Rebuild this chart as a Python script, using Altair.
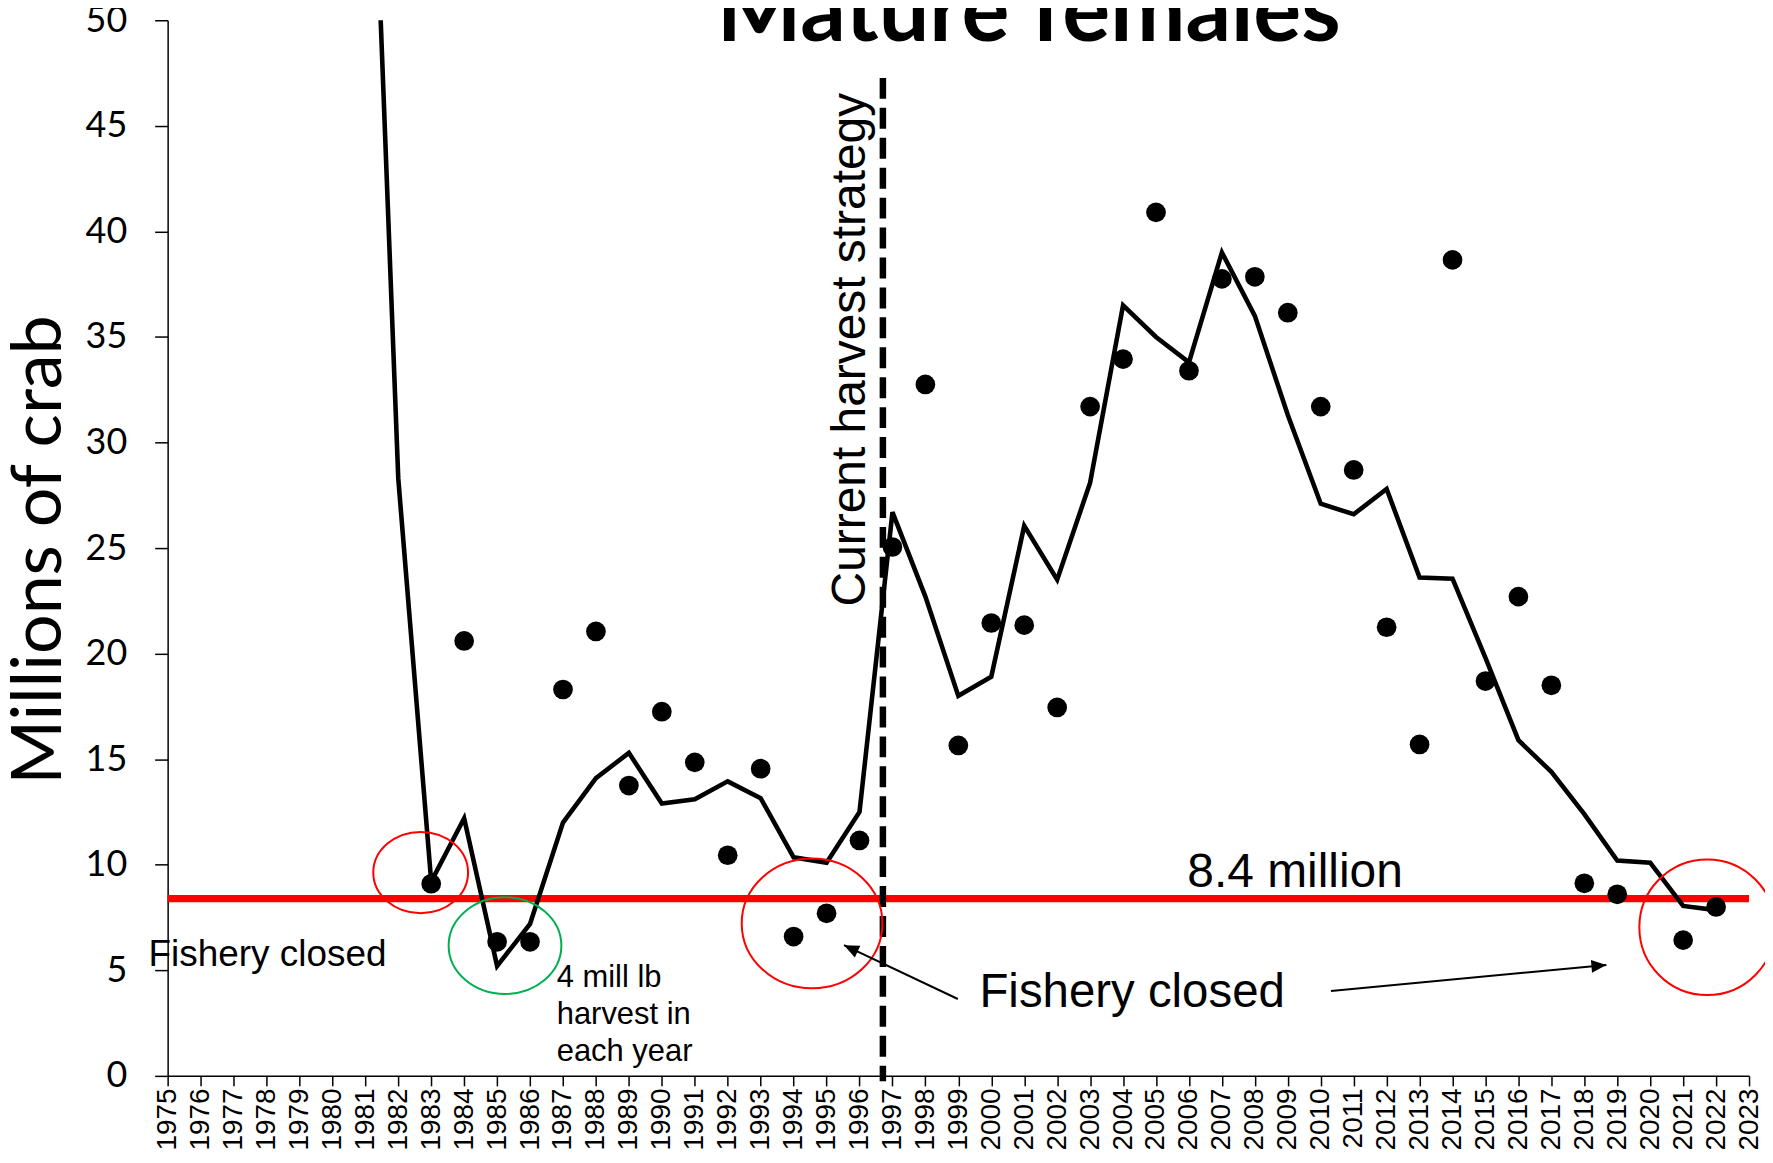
import altair as alt
import pandas as pd

# ---------------- data ----------------
obs_years = [1983, 1984, 1985, 1986, 1987, 1988, 1989, 1990, 1991, 1992,
             1993, 1994, 1995, 1996, 1997, 1998, 1999, 2000, 2001, 2002,
             2003, 2004, 2005, 2006, 2007, 2008, 2009, 2010, 2011, 2012,
             2013, 2014, 2015, 2016, 2017, 2018, 2019, 2021, 2022]
obs_values = [9.1, 20.6, 6.35, 6.35, 18.3, 21.05, 13.75, 17.25, 14.85, 10.45,
              14.55, 6.6, 7.7, 11.15, 25.05, 32.75, 15.65, 21.45, 21.35, 17.45,
              31.7, 33.95, 40.9, 33.4, 37.75, 37.85, 36.15, 31.7, 28.7, 21.25,
              15.7, 38.65, 18.7, 22.7, 18.5, 9.12, 8.6, 6.43, 8.0]

model_years = list(range(1981, 2023))
model_values = [69.0, 28.3, 9.2, 12.2, 5.2, 7.2, 12.0, 14.1, 15.3, 12.9,
                13.1, 13.95, 13.15, 10.35, 10.1, 12.5, 26.7, 22.7, 18.0, 18.9,
                26.05, 23.5, 28.1, 36.5, 35.0, 33.8, 39.0, 36.0, 31.3, 27.1,
                26.6, 27.8, 23.6, 23.55, 19.8, 15.9, 14.4, 12.4, 10.2, 10.1,
                8.05, 7.85]

threshold = 8.4
strategy_year = 1996.71
x_ticks = list(range(1975, 2024))
y_ticks = list(range(0, 51, 5))

title_text = "Mature females"
y_title = "Millions of crab"

# ---------------- layout ----------------
W, H = 1585, 1058
ARIAL = "Liberation Sans"
CAL = "Lato"

xscale = alt.Scale(domain=[1975, 2023], nice=False, zero=False)
yscale = alt.Scale(domain=[0, 50], nice=False, zero=False)

x_axis = alt.Axis(values=x_ticks, format="d", labelAngle=270, labelAlign="right",
                  labelBaseline="middle", labelFont=ARIAL, labelFontSize=28,
                  labelColor="black", labelPadding=2, labelOverlap=False,
                  labelFlush=False, labelBound=False, tickSize=10,
                  tickColor="black", tickWidth=1.5, domainColor="black",
                  domainWidth=1.5, grid=False, title=None)
y_axis = alt.Axis(values=y_ticks, format="d", labelFont=CAL, labelFontSize=36,
                  labelColor="black", labelPadding=28, labelOverlap=False,
                  labelFlush=False, tickSize=13, tickColor="black",
                  tickWidth=1.5, domainColor="black", domainWidth=1.5,
                  grid=False, title=None)


def X(field):
    return alt.X(f"{field}:Q", scale=xscale, axis=x_axis)


def Y(field):
    return alt.Y(f"{field}:Q", scale=yscale, axis=y_axis)


def ellipse_path(ratio):
    k = 0.5523
    r = ratio
    return (f"M1,0 C1,{k*r:.4f} {k:.4f},{r:.4f} 0,{r:.4f} "
            f"C{-k:.4f},{r:.4f} -1,{k*r:.4f} -1,0 "
            f"C-1,{-k*r:.4f} {-k:.4f},{-r:.4f} 0,{-r:.4f} "
            f"C{k:.4f},{-r:.4f} 1,{-k*r:.4f} 1,0 Z")


ARROW_PATH = "M0,0 L0.65,1.5 L-0.65,1.5 Z"

obs_df = pd.DataFrame({"year": obs_years, "value": obs_values})
model_df = pd.DataFrame({"year": model_years, "value": model_values})

layers = []

# red threshold line
layers.append(
    alt.Chart(pd.DataFrame({"x": [1975], "x2": [2023], "y": [threshold]}))
    .mark_rule(color="#FF0000", strokeWidth=7.3)
    .encode(x=X("x"), x2="x2:Q", y=Y("y"))
)

# model line
layers.append(
    alt.Chart(model_df).mark_line(color="black", strokeWidth=4.6, clip=True)
    .encode(x=X("year"), y=Y("value"))
)

# survey points
layers.append(
    alt.Chart(obs_df).mark_circle(size=390, color="black", opacity=1)
    .encode(x=X("year"), y=Y("value"))
)

# dashed vertical rule
layers.append(
    alt.Chart(pd.DataFrame({"x": [strategy_year], "y": [47.27], "y2": [-0.25]}))
    .mark_rule(color="black", strokeWidth=6.5, strokeDash=[21, 9])
    .encode(x=X("x"), y=Y("y"), y2="y2:Q")
)

# ellipses: (year, value, rx px, ry px, colour)
ellipses = [
    (1982.68, 9.63, 47.5, 40.7, "#FF0000"),
    (1985.24, 6.17, 56.5, 48.5, "#00B050"),
    (1994.56, 7.22, 70.5, 65.0, "#FF0000"),
    (2021.73, 7.04, 68.0, 68.0, "#FF0000"),
]
for ex, ey, rx, ry, col in ellipses:
    layers.append(
        alt.Chart(pd.DataFrame({"x": [ex], "y": [ey]}))
        .mark_point(shape=ellipse_path(ry / rx), size=(2 * rx) ** 2,
                    filled=False, stroke=col, strokeWidth=2, opacity=1)
        .encode(x=X("x"), y=Y("y"))
    )

# arrows: start (year, value), tip (year, value), angle
arrows = [
    (1998.985, 3.64, 1995.53, 6.19, 295),
    (2010.31, 4.02, 2018.67, 5.25, 85),
]
for sx, sy, tx, ty, ang in arrows:
    layers.append(
        alt.Chart(pd.DataFrame({"x": [sx], "y": [sy], "x2": [tx], "y2": [ty]}))
        .mark_rule(color="black", strokeWidth=2)
        .encode(x=X("x"), y=Y("y"), x2="x2:Q", y2="y2:Q")
    )
    layers.append(
        alt.Chart(pd.DataFrame({"x": [tx], "y": [ty]}))
        .mark_point(shape=ARROW_PATH, size=400, filled=True, color="black",
                    opacity=1, angle=ang)
        .encode(x=X("x"), y=Y("y"))
    )


# texts in data coordinates
def text_layer(x, y, txt, size, font=ARIAL, align="left", angle=0, weight="normal"):
    return (
        alt.Chart(pd.DataFrame({"x": [x], "y": [y], "t": [txt]}))
        .mark_text(font=font, fontSize=size, align=align, baseline="alphabetic",
                   angle=angle, color="black", fontWeight=weight)
        .encode(x=X("x"), y=Y("y"), text="t:N")
    )


layers.append(text_layer(1996.17, 34.4, "Current harvest strategy", 48,
                         align="center", angle=270))
layers.append(text_layer(1974.42, 5.22, "Fishery closed", 37))
layers.append(text_layer(1986.81, 4.21, "4 mill lb", 31))
layers.append(text_layer(1986.81, 2.46, "harvest in", 31))
layers.append(text_layer(1986.81, 0.71, "each year", 31))
layers.append(text_layer(1999.64, 3.25, "Fishery closed", 47.5))
layers.append(text_layer(2005.95, 8.93, "8.4 million", 48))

# title and y-axis title in pixel space
layers.append(
    alt.Chart(pd.DataFrame({"t": [title_text]}))
    .mark_text(font=CAL, fontSize=90, fontWeight="bold", align="center",
               baseline="alphabetic", color="black")
    .encode(x=alt.value(863), y=alt.value(21), text="t:N")
)
layers.append(
    alt.Chart(pd.DataFrame({"t": [y_title]}))
    .mark_text(font=CAL, fontSize=70, align="center", baseline="alphabetic",
               angle=270, color="black")
    .encode(x=alt.value(-107), y=alt.value(531), text="t:N")
)

chart = (
    alt.layer(*layers)
    .properties(width=W, height=H,
                autosize=alt.AutoSizeParams(type="none"),
                padding={"left": 160, "top": 11, "right": 16, "bottom": 75},
                background="white")
    .configure_view(stroke=None)
)

chart.save("out.html", embed_options={"renderer": "svg", "actions": False})
